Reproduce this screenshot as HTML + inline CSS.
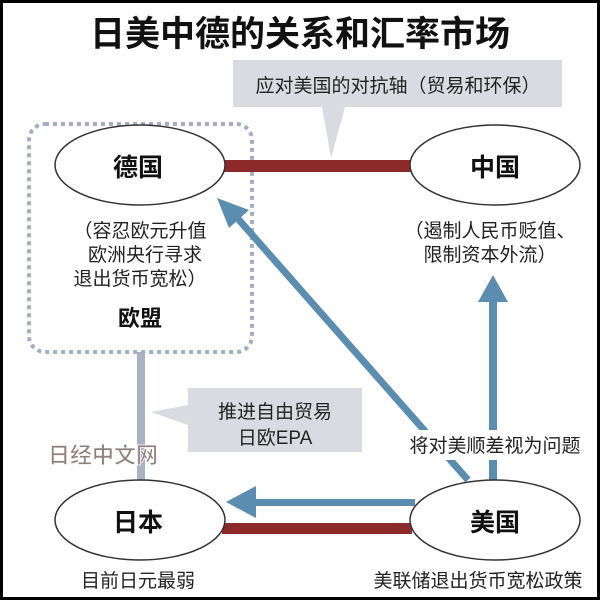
<!DOCTYPE html>
<html><head><meta charset="utf-8"><style>
body{margin:0;background:#000}
svg{display:block}
text{font-family:"Liberation Sans","Noto Sans CJK SC",sans-serif}
</style></head><body>
<svg width="600" height="600" viewBox="0 0 600 600" xmlns="http://www.w3.org/2000/svg">
<rect x="0" y="0" width="600" height="600" fill="#000"/>
<rect x="3" y="3" width="594" height="594" fill="#fff"/>
<text x="300" y="46" font-size="35" font-weight="bold" text-anchor="middle" fill="#111">日美中德的关系和汇率市场</text>
<!-- callout top -->
<polygon points="233,60 562,60 562,107 345,107 331,158 322,107 233,107" fill="#d9dbe0"/>
<text x="398" y="92" font-size="19" text-anchor="middle" fill="#222">应对美国的对抗轴（贸易和环保）</text>
<!-- dotted box -->
<rect x="29" y="124" width="223" height="228" rx="16" fill="none" stroke="#a3aec4" stroke-width="4" stroke-dasharray="4,4"/>
<!-- gray vertical -->
<rect x="137" y="352" width="8" height="128" fill="#a9b2c5"/>
<!-- red bars -->
<rect x="222" y="160" width="190" height="12" fill="#8c2a2a"/>
<rect x="222" y="523" width="190" height="11" fill="#8c2a2a"/>
<!-- blue arrows -->
<g fill="#5a8db0" stroke="none">
<line x1="468" y1="480" x2="232" y2="212" stroke="#5a8db0" stroke-width="7"/>
<polygon points="217,198 249,210 229,228"/>
<rect x="489" y="295" width="8" height="185"/>
<polygon points="493,275 478,302 508,302"/>
<rect x="250" y="499" width="165" height="7"/>
<polygon points="226,502 256,486 256,518"/>
</g>
<!-- callout 2 -->
<polygon points="188,388 362,388 362,452 188,452 188,425 151,412 188,405" fill="#d9dbe0"/>
<text x="275" y="418" font-size="19" text-anchor="middle" fill="#222">推进自由贸易</text>
<text x="275" y="444" font-size="19" text-anchor="middle" fill="#222">日欧EPA</text>
<rect x="395" y="430" width="200" height="30" fill="#fff"/>
<text x="495" y="452" font-size="19" text-anchor="middle" fill="#222">将对美顺差视为问题</text>
<!-- ellipses -->
<g fill="#fff" stroke="#333" stroke-width="1.5">
<ellipse cx="140" cy="165" rx="85" ry="40"/>
<ellipse cx="495" cy="165" rx="85" ry="40"/>
<ellipse cx="140" cy="520" rx="85" ry="40"/>
<ellipse cx="495" cy="520" rx="85" ry="40"/>
</g>
<g font-size="25" font-weight="bold" text-anchor="middle" fill="#111">
<text x="138" y="176">德国</text>
<text x="495" y="176">中国</text>
<text x="138" y="531">日本</text>
<text x="495" y="531">美国</text>
</g>
<g font-size="19" text-anchor="middle" fill="#222">
<text x="140" y="237">（容忍欧元升值</text>
<text x="145" y="261">欧洲央行寻求</text>
<text x="140" y="285">退出货币宽松）</text>
<text x="490" y="237">（遏制人民币贬值、</text>
<text x="490" y="261">限制资本外流）</text>
<text x="138" y="587">目前日元最弱</text>
<text x="478" y="587">美联储退出货币宽松政策</text>
</g>
<text x="140" y="326" font-size="22" font-weight="bold" text-anchor="middle" fill="#111">欧盟</text>
<text x="103" y="463" font-size="22" font-weight="bold" text-anchor="middle" fill="#8f8080" stroke="#fff" stroke-width="0.8">日经中文网</text>
</svg>
</body></html>
